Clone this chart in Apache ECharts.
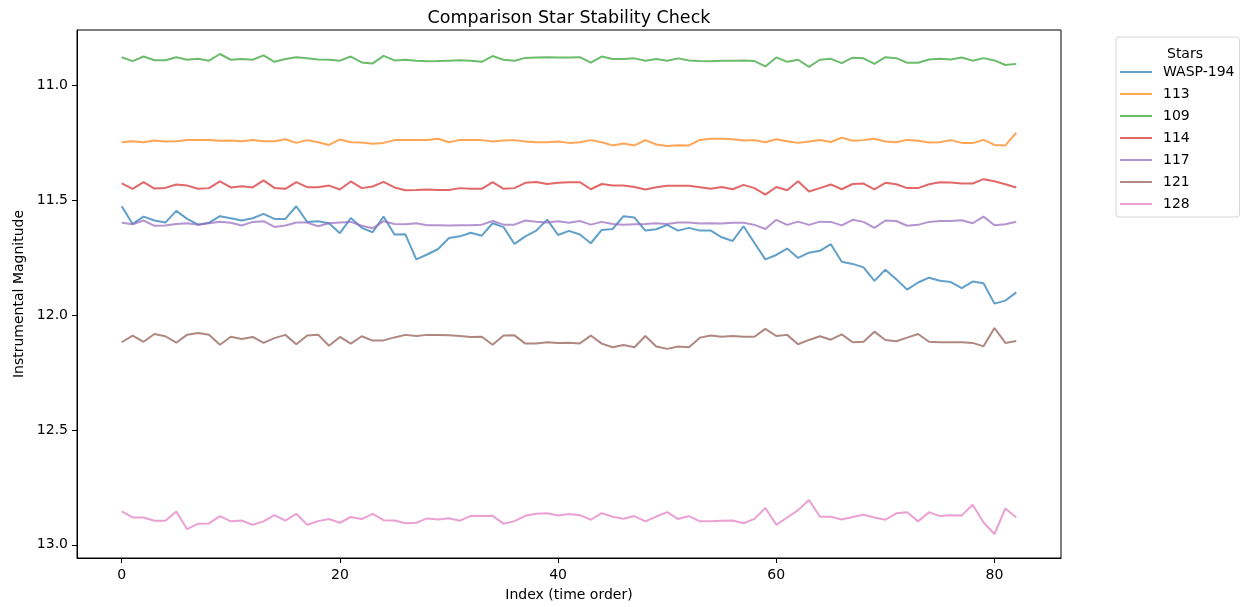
<!DOCTYPE html>
<html>
<head>
<meta charset="utf-8">
<title>Comparison Star Stability Check</title>
<script src="https://cdn.jsdelivr.net/npm/echarts@6/dist/echarts.min.js"></script>
<style>
  html, body { margin: 0; padding: 0; background: #fff; }
  #chart { width: 1242px; height: 607px; }
</style>
</head>
<body>
<div id="chart"></div>
<script>
// Instrumental magnitudes per frame (index = time order)
const wasp194 = [11.526, 11.603, 11.571, 11.588, 11.597, 11.546, 11.581, 11.606, 11.598, 11.569, 11.578, 11.588, 11.578, 11.559, 11.581, 11.581, 11.526, 11.594, 11.591, 11.600, 11.643, 11.577, 11.620, 11.639, 11.571, 11.649, 11.648, 11.757, 11.736, 11.712, 11.664, 11.657, 11.641, 11.654, 11.600, 11.617, 11.690, 11.657, 11.632, 11.584, 11.651,
  11.633, 11.649, 11.687, 11.629, 11.625, 11.569, 11.575, 11.632, 11.626, 11.607, 11.632, 11.620, 11.632, 11.632, 11.661, 11.677, 11.613, 11.686, 11.757, 11.738, 11.710, 11.751, 11.728, 11.720, 11.691, 11.768, 11.777, 11.792, 11.851, 11.802, 11.844, 11.889, 11.858, 11.837, 11.850, 11.856, 11.882, 11.854, 11.861, 11.950, 11.937, 11.901];
const star113 = [11.247, 11.243, 11.247, 11.240, 11.244, 11.243, 11.237, 11.238, 11.237, 11.241, 11.240, 11.243, 11.237, 11.243, 11.243, 11.234, 11.250, 11.238, 11.247, 11.259, 11.235, 11.247, 11.248, 11.254, 11.250, 11.238, 11.237, 11.237, 11.237, 11.232, 11.247, 11.237, 11.237, 11.238, 11.244, 11.240, 11.238, 11.244, 11.247, 11.247, 11.244,
  11.250, 11.247, 11.238, 11.247, 11.261, 11.253, 11.261, 11.238, 11.257, 11.264, 11.260, 11.261, 11.237, 11.232, 11.232, 11.234, 11.240, 11.238, 11.247, 11.234, 11.243, 11.250, 11.244, 11.237, 11.246, 11.227, 11.241, 11.238, 11.232, 11.244, 11.247, 11.237, 11.241, 11.248, 11.247, 11.238, 11.250, 11.251, 11.237, 11.259, 11.261, 11.206];
const star109 = [10.877, 10.894, 10.874, 10.890, 10.890, 10.877, 10.888, 10.884, 10.892, 10.863, 10.888, 10.885, 10.888, 10.869, 10.897, 10.885, 10.877, 10.881, 10.887, 10.888, 10.892, 10.874, 10.900, 10.904, 10.871, 10.891, 10.888, 10.892, 10.895, 10.894, 10.892, 10.890, 10.892, 10.897, 10.872, 10.888, 10.892, 10.880, 10.878, 10.877, 10.878,
  10.878, 10.877, 10.901, 10.874, 10.885, 10.885, 10.882, 10.892, 10.885, 10.892, 10.882, 10.891, 10.894, 10.895, 10.892, 10.892, 10.891, 10.894, 10.917, 10.878, 10.897, 10.888, 10.919, 10.888, 10.884, 10.903, 10.879, 10.882, 10.906, 10.877, 10.881, 10.901, 10.901, 10.887, 10.884, 10.887, 10.878, 10.892, 10.881, 10.891, 10.911, 10.906];
const star114 = [11.426, 11.450, 11.421, 11.449, 11.446, 11.431, 11.436, 11.450, 11.447, 11.418, 11.444, 11.439, 11.444, 11.413, 11.446, 11.450, 11.421, 11.443, 11.443, 11.436, 11.453, 11.418, 11.447, 11.440, 11.420, 11.444, 11.456, 11.455, 11.453, 11.455, 11.455, 11.447, 11.450, 11.450, 11.421, 11.450, 11.447, 11.424, 11.420, 11.429, 11.424,
  11.421, 11.421, 11.452, 11.429, 11.436, 11.436, 11.442, 11.453, 11.443, 11.437, 11.437, 11.437, 11.443, 11.450, 11.442, 11.452, 11.433, 11.447, 11.475, 11.442, 11.456, 11.417, 11.462, 11.447, 11.431, 11.452, 11.429, 11.427, 11.452, 11.424, 11.430, 11.447, 11.447, 11.430, 11.421, 11.423, 11.427, 11.427, 11.408, 11.417, 11.430, 11.444];
const star117 = [11.598, 11.604, 11.588, 11.611, 11.610, 11.603, 11.600, 11.606, 11.600, 11.593, 11.598, 11.610, 11.594, 11.591, 11.616, 11.610, 11.597, 11.597, 11.613, 11.600, 11.597, 11.594, 11.611, 11.622, 11.591, 11.603, 11.604, 11.600, 11.609, 11.609, 11.610, 11.609, 11.609, 11.606, 11.590, 11.606, 11.606, 11.588, 11.593, 11.597, 11.591,
  11.598, 11.590, 11.606, 11.594, 11.603, 11.606, 11.604, 11.603, 11.600, 11.603, 11.597, 11.597, 11.601, 11.600, 11.601, 11.598, 11.598, 11.607, 11.625, 11.585, 11.607, 11.593, 11.607, 11.593, 11.594, 11.609, 11.585, 11.594, 11.620, 11.588, 11.590, 11.611, 11.607, 11.594, 11.590, 11.590, 11.587, 11.600, 11.571, 11.609, 11.604, 11.593];
const star121 = [12.118, 12.089, 12.116, 12.082, 12.092, 12.120, 12.085, 12.078, 12.085, 12.129, 12.094, 12.104, 12.095, 12.121, 12.100, 12.086, 12.127, 12.089, 12.085, 12.133, 12.095, 12.124, 12.092, 12.111, 12.110, 12.097, 12.086, 12.091, 12.086, 12.086, 12.088, 12.091, 12.095, 12.094, 12.129, 12.089, 12.088, 12.124, 12.124, 12.118, 12.121,
  12.120, 12.123, 12.089, 12.124, 12.140, 12.130, 12.140, 12.091, 12.137, 12.147, 12.137, 12.140, 12.098, 12.089, 12.094, 12.091, 12.094, 12.094, 12.060, 12.091, 12.086, 12.127, 12.108, 12.092, 12.107, 12.084, 12.118, 12.116, 12.072, 12.108, 12.114, 12.098, 12.082, 12.116, 12.118, 12.118, 12.118, 12.121, 12.136, 12.056, 12.121, 12.113];
const star128 = [12.855, 12.881, 12.881, 12.895, 12.895, 12.855, 12.932, 12.908, 12.907, 12.875, 12.898, 12.894, 12.913, 12.898, 12.871, 12.895, 12.865, 12.913, 12.897, 12.888, 12.904, 12.879, 12.888, 12.865, 12.893, 12.894, 12.906, 12.904, 12.885, 12.890, 12.884, 12.895, 12.874, 12.875, 12.874, 12.908, 12.897, 12.874, 12.865, 12.863, 12.872,
  12.866, 12.871, 12.891, 12.862, 12.878, 12.887, 12.875, 12.898, 12.877, 12.858, 12.888, 12.875, 12.898, 12.898, 12.895, 12.894, 12.906, 12.887, 12.840, 12.913, 12.881, 12.849, 12.805, 12.878, 12.878, 12.890, 12.879, 12.869, 12.881, 12.891, 12.863, 12.858, 12.898, 12.858, 12.875, 12.871, 12.872, 12.826, 12.903, 12.953, 12.842, 12.881];

const starNames = ['WASP-194', '113', '109', '114', '117', '121', '128'];
const starValues = [wasp194, star113, star109, star114, star117, star121, star128];
const xTicks = [0, 20, 40, 60, 80];
const yTicks = [11.0, 11.5, 12.0, 12.5, 13.0];

// tab10 palette drawn at 70% opacity
const palette = [
  'rgba(31,119,180,0.7)', 'rgba(255,127,14,0.7)', 'rgba(44,160,44,0.7)',
  'rgba(214,39,40,0.7)', 'rgba(148,103,189,0.7)', 'rgba(140,86,75,0.7)',
  'rgba(227,119,194,0.7)'
];

const FONT = 'DejaVu Sans';
const n = wasp194.length;
const allVals = starValues.flat();
const yLo = Math.min(...allVals), yHi = Math.max(...allVals);
const yPad = (yHi - yLo) * 0.05;
const xPad = (n - 1) * 0.05;

const series = starNames.map((name, k) => ({
  name: name,
  type: 'line',
  data: starValues[k].map((v, i) => [i, v]),
  symbol: 'none',
  showSymbol: false,
  color: palette[k],
  lineStyle: { width: 2, color: palette[k] },
  emphasis: { disabled: true }
}));

const chart = echarts.init(document.getElementById('chart'), null, { renderer: 'canvas' });
chart.setOption({
  animation: false,
  backgroundColor: '#fff',
  textStyle: { fontFamily: FONT },
  title: [
    {
      text: 'Comparison Star Stability Check',
      left: 564, top: 4, textAlign: 'center',
      textStyle: { fontFamily: FONT, fontSize: 17.5, fontWeight: 'normal', color: '#000' }
    },
    {
      text: 'Stars',
      left: 1180, top: 42, textAlign: 'center',
      textStyle: { fontFamily: FONT, fontSize: 14, fontWeight: 'normal', color: '#000' }
    }
  ],
  legend: {
    orient: 'vertical',
    left: 1116, top: 37,
    padding: [28, 5, 6, 4],
    itemWidth: 32, itemHeight: 2, itemGap: 8,
    icon: 'rect',
    data: starNames,
    textStyle: { fontFamily: FONT, fontSize: 14, lineHeight: 14, color: '#000', padding: [0, 0, 0, 6] },
    backgroundColor: '#fff',
    borderColor: '#d6d6d6', borderWidth: 1, borderRadius: 3,
    selectedMode: false
  },
  grid: {
    left: 77, top: 30, width: 984, height: 533,
    show: true, borderColor: '#000', borderWidth: 1, backgroundColor: 'transparent',
    containLabel: false
  },
  xAxis: {
    type: 'value',
    min: -xPad, max: (n - 1) + xPad,
    name: 'Index (time order)',
    nameLocation: 'middle', nameGap: 30,
    nameTextStyle: { fontFamily: FONT, fontSize: 14, color: '#000' },
    axisLine: { show: true, onZero: false, lineStyle: { color: '#000', width: 1 } },
    axisTick: { show: true, inside: false, length: 5, customValues: xTicks, lineStyle: { color: '#000' } },
    axisLabel: { customValues: xTicks, margin: 10, fontFamily: FONT, fontSize: 14, color: '#000' },
    splitLine: { show: false }
  },
  yAxis: {
    type: 'value',
    inverse: true,
    min: yLo - yPad, max: yHi + yPad,
    name: 'Instrumental Magnitude',
    nameLocation: 'middle', nameGap: 50,
    nameTextStyle: { fontFamily: FONT, fontSize: 14, color: '#000' },
    axisLine: { show: true, onZero: false, lineStyle: { color: '#000', width: 1 } },
    axisTick: { show: true, inside: false, length: 5, customValues: yTicks, lineStyle: { color: '#000' } },
    axisLabel: {
      customValues: yTicks, margin: 9, fontFamily: FONT, fontSize: 14, color: '#000',
      formatter: v => v.toFixed(1)
    },
    splitLine: { show: false }
  },
  series: series
});
</script>
</body>
</html>
